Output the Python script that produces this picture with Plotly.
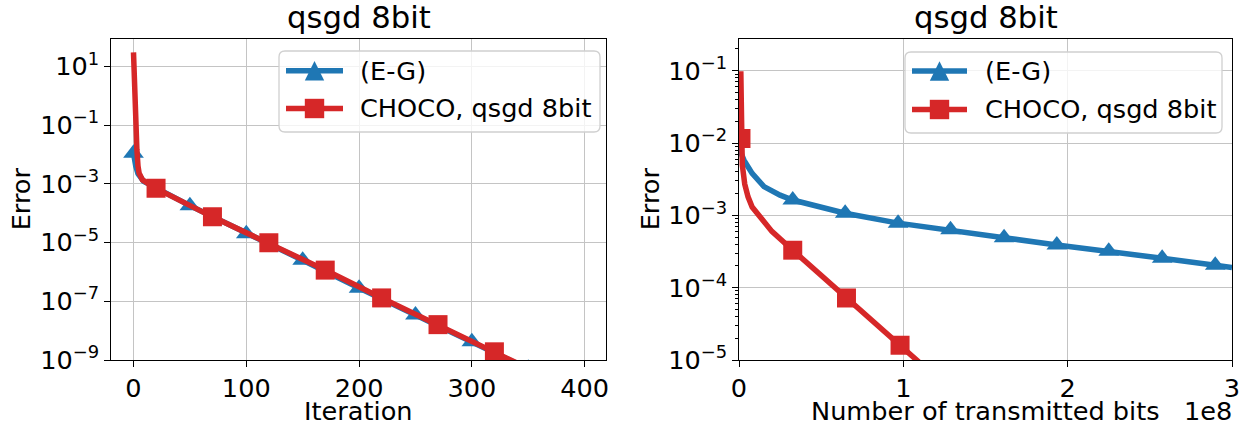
import plotly.graph_objects as go

BLUE = "#1f77b4"
RED = "#d62728"
FONT = "DejaVu Sans"

# ---- left panel: error against iteration ----
eg_iter = [0, 1, 2, 4, 6, 9, 50, 100, 150, 200, 250, 300, 350, 400]
eg_iter_err = [1.1e-2, 6e-3, 4e-3, 2.2e-3, 1.6e-3, 1.2e-3, 1.8e-4, 2.0e-5,
               2.5e-6, 2.8e-7, 3.4e-8, 4.2e-9, 5.2e-10, 6e-11]
eg_iter_marks = [0, 50, 100, 150, 200, 250, 300, 350]

choco_iter = [0, 1, 2, 3, 4, 5, 8, 20, 70, 120, 170, 220, 270, 320, 370]
choco_iter_err = [30, 0.8, 0.09, 0.015, 0.004, 0.0023, 0.00135, 7e-4, 7.5e-5,
                  9.8e-6, 1.15e-6, 1.3e-7, 1.6e-8, 1.9e-9, 2.2e-10]
choco_iter_marks = [20, 70, 120, 170, 220, 270, 320]

# ---- right panel: error against number of transmitted bits ----
eg_bits = [0, 0.01e8, 0.03e8, 0.08e8, 0.152e8, 0.25e8, 0.327e8, 0.646e8,
           0.968e8, 1.287e8, 1.613e8, 1.934e8, 2.25e8, 2.575e8, 2.898e8, 3.0e8]
eg_bits_err = [1.05e-2, 7.5e-3, 5.8e-3, 3.8e-3, 2.5e-3, 1.9e-3, 1.63e-3, 1.07e-3,
               7.8e-4, 6.3e-4, 4.9e-4, 3.9e-4, 3.2e-4, 2.55e-4, 2.04e-4, 1.9e-4]
eg_bits_marks = [0, 0.327e8, 0.646e8, 0.968e8, 1.287e8, 1.613e8, 1.934e8,
                 2.25e8, 2.575e8, 2.898e8]

choco_bits = [0.011e8, 0.012e8, 0.02e8, 0.035e8, 0.055e8, 0.08e8, 0.148e8,
              0.2e8, 0.327e8, 0.654e8, 0.98e8, 1.307e8]
choco_bits_err = [0.098, 0.0115, 0.005, 0.0027, 0.0018, 0.0013, 8.6e-4,
                  6.0e-4, 3.3e-4, 7.2e-5, 1.6e-5, 3.5e-6]
choco_bits_marks = [0.012e8, 0.327e8, 0.654e8, 0.98e8]

left_yticks = [1e1, 1e-1, 1e-3, 1e-5, 1e-7, 1e-9]
left_yticktext = ["10<sup>1</sup>", "10<sup>−1</sup>", "10<sup>−3</sup>",
                  "10<sup>−5</sup>", "10<sup>−7</sup>", "10<sup>−9</sup>"]
right_yticks = [1e-1, 1e-2, 1e-3, 1e-4, 1e-5]
right_yticktext = ["10<sup>−1</sup>", "10<sup>−2</sup>", "10<sup>−3</sup>",
                   "10<sup>−4</sup>", "10<sup>−5</sup>"]
right_yminor = [k * 10.0 ** e for e in range(-5, 0) for k in range(2, 10)]
right_xticks = [0, 1e8, 2e8, 3e8]
right_xticktext = ["0", "1", "2", "3"]

names = ["(E-G)", "CHOCO, qsgd 8bit"]

LW = 5.5
TRI = 18
SQ = 19
W, H = 1244, 429


def pick(xs, ys, marks):
    sel = [(x, y) for x, y in zip(xs, ys) if x in marks]
    return [p[0] for p in sel], [p[1] for p in sel]


fig = go.Figure()


def add_panel(xa, ya, eg_x, eg_y, eg_m, ch_x, ch_y, ch_m):
    mx, my = pick(eg_x, eg_y, eg_m)
    fig.add_trace(go.Scatter(x=eg_x, y=eg_y, mode="lines", xaxis=xa, yaxis=ya,
                             name=names[0], line=dict(color=BLUE, width=LW),
                             showlegend=False))
    fig.add_trace(go.Scatter(x=mx, y=my, mode="markers", xaxis=xa, yaxis=ya,
                             name=names[0], showlegend=False,
                             marker=dict(color=BLUE, size=TRI, symbol="triangle-up")))
    cx, cy = pick(ch_x, ch_y, ch_m)
    fig.add_trace(go.Scatter(x=ch_x, y=ch_y, mode="lines", xaxis=xa, yaxis=ya,
                             name=names[1], line=dict(color=RED, width=LW),
                             showlegend=False))
    fig.add_trace(go.Scatter(x=cx, y=cy, mode="markers", xaxis=xa, yaxis=ya,
                             name=names[1], showlegend=False,
                             marker=dict(color=RED, size=SQ, symbol="square")))


add_panel("x", "y", eg_iter, eg_iter_err, eg_iter_marks,
          choco_iter, choco_iter_err, choco_iter_marks)
add_panel("x2", "y2", eg_bits, eg_bits_err, eg_bits_marks,
          choco_bits, choco_bits_err, choco_bits_marks)

TOP, BOT = 38.5, 360
L1, R1 = 111, 606
L2, R2 = 739, 1232
ydom = [1 - BOT / H, 1 - TOP / H]

axis_common = dict(
    showline=True, linecolor="black", linewidth=1.3, mirror=True,
    ticks="outside", ticklen=5.6, tickwidth=1.3, tickcolor="black",
    showgrid=True, gridcolor="#c4c4c4", gridwidth=1.3, zeroline=False,
    automargin=False,
    tickfont=dict(family=FONT, size=25.6, color="black"),
)

fig.update_layout(
    width=W, height=H,
    margin=dict(l=0, r=0, t=0, b=0, autoexpand=False),
    paper_bgcolor="white", plot_bgcolor="white",
    font=dict(family=FONT, size=25.6, color="black"),
    showlegend=False,
    xaxis=dict(axis_common, domain=[L1 / W, R1 / W], range=[-19.95, 418.95],
               tickvals=[0, 100, 200, 300, 400], anchor="y"),
    yaxis=dict(axis_common, domain=ydom, type="log", range=[-9, 1.947],
               tickvals=left_yticks, ticktext=left_yticktext, anchor="x"),
    xaxis2=dict(axis_common, domain=[L2 / W, R2 / W], range=[0, 3e8],
                tickvals=right_xticks, ticktext=right_xticktext, anchor="y2"),
    yaxis2=dict(axis_common, domain=ydom, type="log", range=[-5, -0.555],
                tickvals=right_yticks, ticktext=right_yticktext, anchor="x2",
                minor=dict(ticks="outside", ticklen=3.2, tickwidth=1,
                           tickcolor="black", tickvals=right_yminor,
                           showgrid=False)),
)


# ---- legend boxes drawn in pixel space ----
def P(x, y):
    return x / W, 1 - y / H


def path(points, close=True):
    s = "M " + " L ".join("%.5f,%.5f" % P(x, y) for x, y in points)
    return s + (" Z" if close else "")


def rounded_box(x0, y0, x1, y1, r=6):
    pts = []
    s = "M %.5f,%.5f" % P(x0 + r, y0)
    s += " L %.5f,%.5f" % P(x1 - r, y0)
    s += " Q %.5f,%.5f %.5f,%.5f" % (*P(x1, y0), *P(x1, y0 + r))
    s += " L %.5f,%.5f" % P(x1, y1 - r)
    s += " Q %.5f,%.5f %.5f,%.5f" % (*P(x1, y1), *P(x1 - r, y1))
    s += " L %.5f,%.5f" % P(x0 + r, y1)
    s += " Q %.5f,%.5f %.5f,%.5f" % (*P(x0, y1), *P(x0, y1 - r))
    s += " L %.5f,%.5f" % P(x0, y0 + r)
    s += " Q %.5f,%.5f %.5f,%.5f Z" % (*P(x0, y0), *P(x0 + r, y0))
    return s


shapes = []
ann = []
legend_boxes = [
    # box x0, y0, x1, y1, sample x0, x1, text x, row ys
    (279, 51, 600, 132, 286, 343, 357.5, (70.7, 108.5)),
    (905, 52, 1222, 133, 912, 967, 982.5, (71.0, 109.5)),
]
for bx0, by0, bx1, by1, sx0, sx1, tx, rows in legend_boxes:
    shapes.append(dict(type="path", xref="paper", yref="paper",
                       path=rounded_box(bx0, by0, bx1, by1),
                       fillcolor="rgba(255,255,255,0.8)",
                       line=dict(color="#d0d0d0", width=1.3)))
    mxc = (sx0 + sx1) / 2
    for (name, col, sym), ry in zip([(names[0], BLUE, "tri"),
                                     (names[1], RED, "sq")], rows):
        shapes.append(dict(type="line", xref="paper", yref="paper",
                           x0=sx0 / W, x1=sx1 / W, y0=1 - ry / H, y1=1 - ry / H,
                           line=dict(color=col, width=LW)))
        h = 9.7
        if sym == "tri":
            pts = [(mxc - h, ry + h), (mxc + h, ry + h), (mxc, ry - h)]
        else:
            pts = [(mxc - h, ry - h), (mxc + h, ry - h), (mxc + h, ry + h),
                   (mxc - h, ry + h)]
        shapes.append(dict(type="path", xref="paper", yref="paper",
                           path=path(pts), fillcolor=col, line=dict(width=0)))
        ann.append(dict(text=name, x=tx / W, y=1 - ry / H, xref="paper",
                        yref="paper", xanchor="left", yanchor="middle",
                        showarrow=False, font=dict(family=FONT, size=25.6)))

# ---- titles and axis labels ----
for cx in [(L1 + R1) / 2, (L2 + R2) / 2]:
    ann.append(dict(text="qsgd 8bit", x=cx / W, y=1 - 36.6 / H, xref="paper",
                    yref="paper", xanchor="center", yanchor="bottom",
                    showarrow=False, font=dict(family=FONT, size=30.7)))
for cx in [21.1, 650.1]:
    ann.append(dict(text="Error", x=cx / W, y=1 - (TOP + BOT) / 2 / H,
                    xref="paper", yref="paper", xanchor="center",
                    yanchor="middle", textangle=-90, showarrow=False,
                    font=dict(family=FONT, size=25.6)))
ann.append(dict(text="Iteration", x=(L1 + R1) / 2 / W, y=1 - 394.2 / H,
                xref="paper", yref="paper", xanchor="center", yanchor="top",
                showarrow=False, font=dict(family=FONT, size=25.6)))
ann.append(dict(text="Number of transmitted bits", x=(L2 + R2) / 2 / W,
                y=1 - 394.2 / H, xref="paper", yref="paper", xanchor="center",
                yanchor="top", showarrow=False, font=dict(family=FONT, size=25.6)))
ann.append(dict(text="1e8", x=1233.5 / W, y=1 - 394.2 / H, xref="paper",
                yref="paper", xanchor="right", yanchor="top", showarrow=False,
                font=dict(family=FONT, size=25.6)))
fig.update_layout(annotations=ann, shapes=shapes)

fig.write_html("out.html")
